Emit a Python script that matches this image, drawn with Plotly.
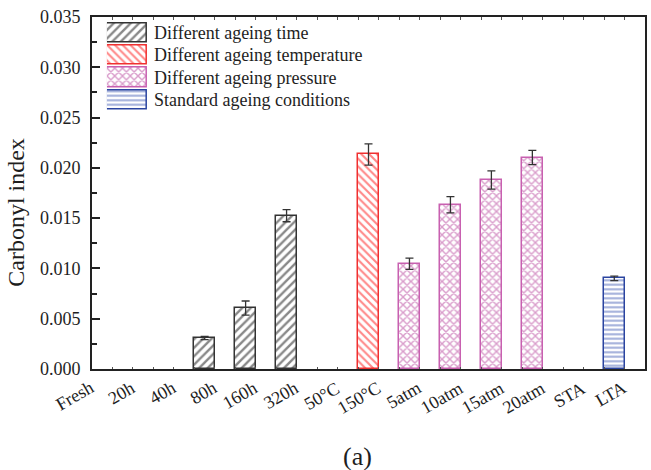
import plotly.graph_objects as go

# Sample categories along the x axis
categories = ["Fresh", "20h", "40h", "80h", "160h", "320h", "50°C", "150°C",
              "5atm", "10atm", "15atm", "20atm", "STA", "LTA"]

# Carbonyl index per group (category name -> value, error)
time_cats = ["80h", "160h", "320h"]
time_vals = [0.00308, 0.00606, 0.01524]
time_errs = [0.00015, 0.00070, 0.00060]

temp_cats = ["150°C"]
temp_vals = [0.02133]
temp_errs = [0.00106]

pres_cats = ["5atm", "10atm", "15atm", "20atm"]
pres_vals = [0.01047, 0.01633, 0.01879, 0.02103]
pres_errs = [0.00056, 0.00080, 0.00090, 0.00070]

std_cats = ["LTA"]
std_vals = [0.00901]
std_errs = [0.00023]

legend_names = ["Different ageing time", "Different ageing temperature",
                "Different ageing pressure", "Standard ageing conditions"]

FONT = "Liberation Serif, Times New Roman, serif"
AXIS = "#222222"
TEXT = "#1e1e1e"

styles = [
    dict(line="#333333", fg="#111111", shape="/", size=6, sol=0.4),
    dict(line="#F03030", fg="#FF1010", shape="\\", size=5.5, sol=0.38),
    dict(line="#C860B0", fg="#B43C98", shape="x", size=5.5, sol=0.45),
    dict(line="#2A44A0", fg="#3F5AB4", shape="-", size=4.5, sol=0.45),
]

groups = [
    (time_cats, time_vals, time_errs),
    (temp_cats, temp_vals, temp_errs),
    (pres_cats, pres_vals, pres_errs),
    (std_cats, std_vals, std_errs),
]

fig = go.Figure()

for (cats, vals, errs), st, name in zip(groups, styles, legend_names):
    xs = [categories.index(c) for c in cats]
    fig.add_trace(go.Bar(
        x=xs, y=vals, width=0.51, name=name, showlegend=False,
        marker=dict(color="white",
                    line=dict(color=st["line"], width=1.5),
                    pattern=dict(shape=st["shape"], fgcolor=st["fg"], bgcolor="white",
                                 size=st["size"], solidity=st["sol"])),
        error_y=dict(type="data", array=errs, visible=True,
                     color="#333333", thickness=1.3, width=4),
    ))

# Legend patches drawn as bars on a small inset axis
for i, (st, name) in enumerate(zip(styles, legend_names)):
    fig.add_trace(go.Bar(
        x=[1], y=[i], orientation="h", width=0.86, xaxis="x3", yaxis="y3",
        showlegend=False, cliponaxis=False, hoverinfo="skip",
        marker=dict(color="white",
                    line=dict(color=st["line"], width=1.5),
                    pattern=dict(shape=st["shape"], fgcolor=st["fg"], bgcolor="white",
                                 size=st["size"], solidity=st["sol"])),
    ))
    fig.add_annotation(x=1, y=i, xref="x3", yref="y3", xanchor="left", yanchor="middle",
                       xshift=5, text=name, showarrow=False,
                       font=dict(family=FONT, size=18, color=TEXT))

# Rotated category labels; the right end of each label sits just right of its bar
LABEL_OFFSET = 0.44
for i, c in enumerate(categories):
    fig.add_annotation(x=i + LABEL_OFFSET, y=0, xref="x", yref="y",
                       xanchor="right", yanchor="top",
                       yshift=-6, textangle=-30, text=c, showarrow=False,
                       font=dict(family=FONT, size=18, color=TEXT))

fig.add_annotation(x=(16 - 91.7) / 555, y=(369.3 - 212.5) / 352, xref="paper", yref="paper",
                   text="Carbonyl index", textangle=-90, showarrow=False,
                   xanchor="center", yanchor="middle",
                   font=dict(family=FONT, size=24, color=TEXT))

fig.add_annotation(x=(358 - 91.7) / 555, y=(369.3 - 457) / 352, xref="paper", yref="paper",
                   text="(a)", showarrow=False, xanchor="center", yanchor="middle",
                   font=dict(family=FONT, size=26, color=TEXT))

fig.update_layout(
    width=651, height=470,
    margin=dict(l=91.7, r=4.3, t=17.3, b=100.7),
    plot_bgcolor="white", paper_bgcolor="white",
    font=dict(family=FONT, color=TEXT),
    bargap=0,
    xaxis=dict(range=[0.25, 13.75], showgrid=False, zeroline=False,
               showline=True, linecolor=AXIS, linewidth=2, mirror="allticks",
               ticks="inside", tick0=0.25, dtick=0.5, ticklen=2.5, tickwidth=1,
               tickcolor="#555555", showticklabels=False),
    yaxis=dict(range=[0, 0.035], showgrid=False, zeroline=False,
               showline=True, linecolor=AXIS, linewidth=2, mirror=True,
               ticks="inside", dtick=0.005, tickformat=".3f", ticklen=8, tickwidth=1.5,
               tickcolor=AXIS, ticklabelstandoff=6,
               tickfont=dict(family=FONT, size=18, color=TEXT),
               minor=dict(ticks="inside", dtick=0.0025, ticklen=5, tickwidth=1.5,
                          tickcolor=AXIS)),
    xaxis3=dict(domain=[(106.7 - 91.7) / 555, (147.3 - 91.7) / 555], range=[0, 1],
                visible=False, anchor="y3", fixedrange=True),
    yaxis3=dict(domain=[(369.3 - 111.6) / 352, (369.3 - 21.8) / 352], range=[3.5, -0.5],
                visible=False, anchor="x3", fixedrange=True),
)

fig.write_html("out.html")
